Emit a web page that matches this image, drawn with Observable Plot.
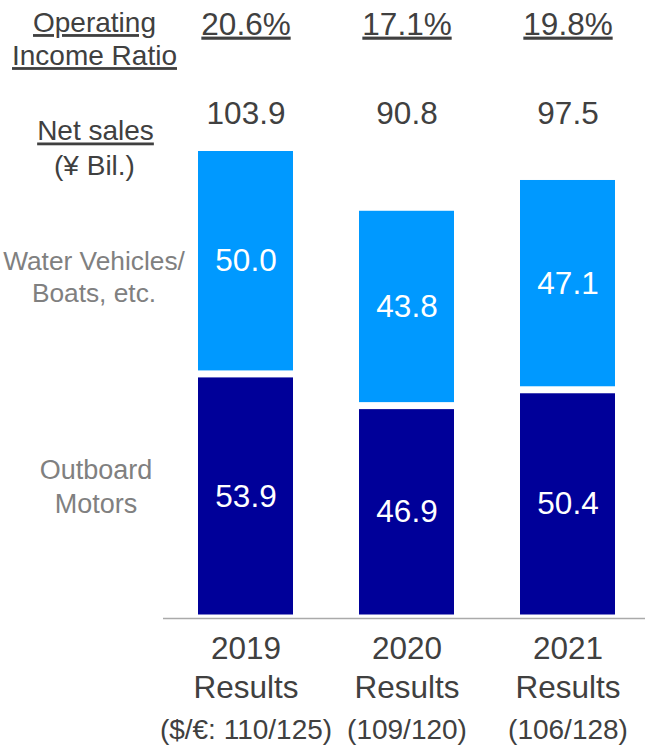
<!DOCTYPE html>
<html>
<head>
<meta charset="utf-8">
<script src="https://cdn.jsdelivr.net/npm/d3@7"></script>
<script src="https://cdn.jsdelivr.net/npm/@observablehq/plot@0.6"></script>
<style>
  html, body { margin: 0; padding: 0; background: #ffffff; }
  #chart svg { display: block; }
</style>
</head>
<body>
<div id="chart"></div>
<script>
// ---- data ----
const years = ["2019", "2020", "2021"];
const periodLabel = "Results";
const rateLabels = ["($/€: 110/125)", "(109/120)", "(106/128)"];
const seriesNames = ["Outboard Motors", "Water Vehicles/Boats, etc."];
const seriesLabels = ["Outboard\nMotors", "Water Vehicles/\nBoats, etc."];
const outboardMotors = [53.9, 46.9, 50.4];
const waterVehicles = [50.0, 43.8, 47.1];
const netSales = [103.9, 90.8, 97.5];
const operatingIncomeRatio = [20.6, 17.1, 19.8];
const seriesColors = ["#000099", "#0099ff"];

// ---- derived tables ----
const cats = years.map(y => `${y}\n${periodLabel}`);
const rows = [];
years.forEach((y, i) => {
  rows.push({cat: cats[i], series: seriesNames[0], value: outboardMotors[i]});
  rows.push({cat: cats[i], series: seriesNames[1], value: waterVehicles[i]});
});
const totals = years.map((y, i) => ({cat: cats[i], total: netSales[i], ratio: operatingIncomeRatio[i], rate: rateLabels[i]}));
const labelFor = k => d => (d.cat === cats[0] && d.series === seriesNames[k]) ? seriesLabels[k] : null;

const dark = "#404040";
const gray = "#808080";
const numSize = "31.5px";

const plot = Plot.plot({
  width: 645,
  height: 748,
  marginTop: 147.5,
  marginBottom: 130,
  marginLeft: 163,
  marginRight: 0,
  style: {fontFamily: "'Liberation Sans', Arial, sans-serif", background: "#ffffff"},
  x: {domain: cats, paddingInner: 0.4125, paddingOuter: 0.1967, align: 0.53, axis: null},
  y: {axis: null},
  color: {domain: seriesNames, range: seriesColors},
  marks: [
    Plot.barY(rows, {x: "cat", y: "value", fill: "series", insetTop: 3.5, insetBottom: 3.5}),
    Plot.ruleY([0], {stroke: "#aaaaaa", strokeWidth: 1.5}),
    // values inside bars
    Plot.text(rows, Plot.stackY({x: "cat", y: "value", z: "series", text: d => d.value.toFixed(1), fill: "white", fontSize: numSize})),
    // totals
    Plot.text(totals, {x: "cat", text: d => d.total.toFixed(1), frameAnchor: "top", lineAnchor: "bottom", dy: -24.4, fill: dark, fontSize: numSize}),
    // operating income ratio
    Plot.text(totals, {x: "cat", text: d => d.ratio.toFixed(1) + "%", frameAnchor: "top", lineAnchor: "bottom", dy: -113.4, fill: dark, fontSize: numSize, ariaDescription: "underlined"}),
    // x labels
    Plot.text(totals, {x: "cat", text: "cat", frameAnchor: "bottom", lineAnchor: "top", dy: 12.6, lineHeight: 1.24, fill: dark, fontSize: numSize}),
    Plot.text(totals, {x: "cat", text: "rate", frameAnchor: "bottom", lineAnchor: "top", dy: 101, fill: dark, fontSize: "28px"}),
    // left headers
    Plot.text(["Operating\nIncome Ratio"], {frameAnchor: "top-left", textAnchor: "middle", lineAnchor: "top", dx: -69, dy: -139.4, lineHeight: 1.18, fill: dark, fontSize: "28px", ariaDescription: "underlined"}),
    Plot.text(["Net sales"], {frameAnchor: "top-left", textAnchor: "middle", lineAnchor: "top", dx: -68, dy: -27.4, fill: dark, fontSize: "28px", ariaDescription: "underlined"}),
    Plot.text(["(¥ Bil.)"], {frameAnchor: "top-left", textAnchor: "middle", lineAnchor: "top", dx: -69, dy: 7.6, fill: dark, fontSize: "28px"}),
    // series labels on the left (attached to first bar's segments)
    Plot.text(rows, Plot.stackY({x: "cat", y: "value", z: "series", text: labelFor(1), dx: -152, dy: 14.7, lineHeight: 1.22, fill: gray, fontSize: "26.3px"})),
    Plot.text(rows, Plot.stackY({x: "cat", y: "value", z: "series", text: labelFor(0), dx: -150, dy: -11, lineHeight: 1.26, fill: gray, fontSize: "27px"}))
  ]
});

plot.querySelectorAll('g[aria-description="underlined"] text').forEach(t => {
  t.style.textDecoration = "underline";
  t.setAttribute("text-decoration", "underline");
});
document.getElementById("chart").appendChild(plot);
</script>
</body>
</html>
